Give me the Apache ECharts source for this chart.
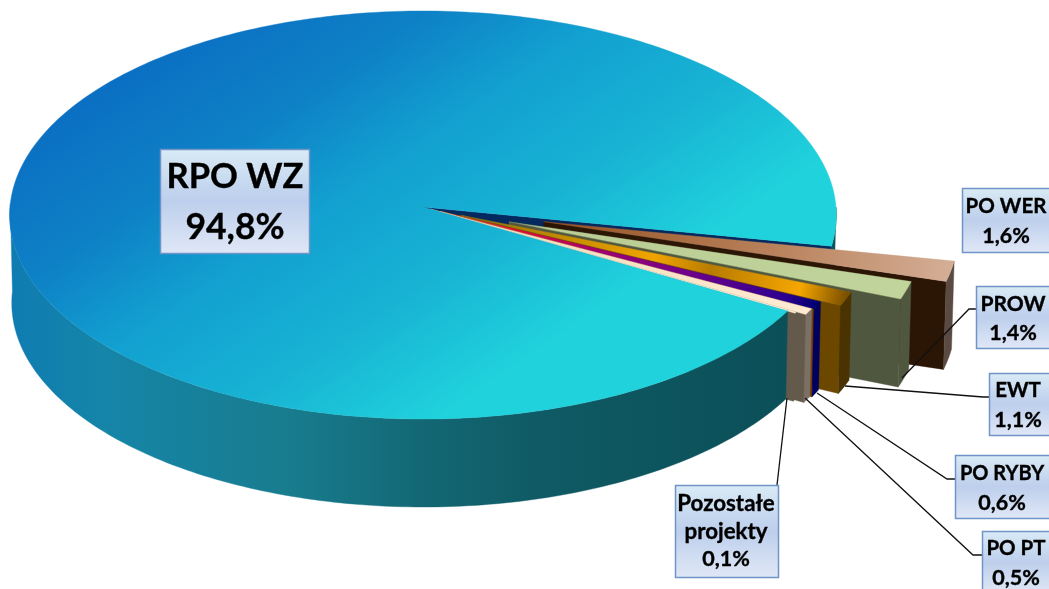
<!DOCTYPE html>
<html><head><meta charset="utf-8">
<style>html,body{margin:0;padding:0;background:#fff;overflow:hidden}#c{width:1049px;height:589px}</style>
<script src="https://cdn.jsdelivr.net/npm/echarts@6/dist/echarts.min.js"></script>
</head><body><div id="c"></div>
<script>
// ---- data ----
const categories = ['RPO WZ', 'PO WER', 'PROW', 'EWT', 'PO RYBY', 'PO PT', 'Pozostałe\nprojekty'];
const shares = [94.8, 1.6, 1.4, 1.1, 0.6, 0.5, 0.1];

// ---- styling / layout, separate from the data ----
const explode = [0, 0.30, 0.22, 0.10, 0.05, 0.045, 0.02];
const FIRST_SLICE_ANGLE = 11;          // where the slice after RPO WZ starts
const SIDE_END_ANGLE = 181;            // silhouette of the pie's left edge
const PIE = { x: 423, y: 207, rx: 413, ry: 203.7, persp: 0.0392, depth: 88, bottomScale: 0.995 };
const FONT = 'Lato, Carlito, "Open Sans", sans-serif';
const g = (x, y, x2, y2, stops) => new echarts.graphic.LinearGradient(x, y, x2, y2,
  stops.map(s => ({ offset: s[0], color: s[1] })), true);

const sliceFaces = [
  null,
  { cut: '#2b1505', outer: '#5a4a42', top: [[0, '#94501f'], [0.6, '#bb8560'], [1, '#d4ae96']] },
  { cut: '#50573f', outer: '#50573f', top: [[0, '#7c8a62'], [0.1, '#b8cc94'], [1, '#c0d49c']] },
  { cut: '#6b4700', outer: '#4a3300', top: [[0, '#8a7010'], [0.25, '#c08a00'], [0.5, '#f0a400'], [0.65, '#b87c00'], [0.88, '#f5a600'], [1, '#7a5000']] },
  { cut: '#7a3d00', outer: '#00005e', top: [[0, '#d06020'], [0.2, '#e01030'], [0.42, '#a00070'], [0.65, '#70008a'], [0.92, '#2a0090'], [1, '#000070']] },
  { cut: '#645a4c', outer: '#7a7066', top: [[0, '#f3d8b8'], [1, '#fdebd2']] },
  { cut: '#645a4c', outer: '#645a4c', top: [[0, '#fdebd2'], [1, '#fdebd2']] }
];
const boxes = [
  { x: 160, y: 149, w: 149, h: 104, cx: 235, name: 34.5, pct: 35.5, lh: 51, dy: 1.5, line: null },
  { x: 962, y: 188, w: 90, h: 64, cx: 1006, name: 20.5, pct: 21.5, lh: 29.5, dy: 1.5, line: null },
  { x: 976, y: 286, w: 76, h: 62, cx: 1013, name: 21, pct: 21.5, lh: 29.5, dy: 1.5, line: [[977, 309], [969, 309], [902, 378]] },
  { x: 989, y: 373, w: 63, h: 62, cx: 1018, name: 20.5, pct: 21.5, lh: 29.5, dy: 1.5, line: [[989, 397], [983, 397], [845, 386]] },
  { x: 955, y: 455, w: 97, h: 63, cx: 1002, name: 20, pct: 21.5, lh: 29.5, dy: 1.5, line: [[955, 479], [947, 479], [817, 393]] },
  { x: 982, y: 531, w: 70, h: 62, cx: 1016, name: 20.5, pct: 21.5, lh: 29.5, dy: 1.5, line: [[982, 555], [973, 555], [805, 398]] },
  { x: 675, y: 485, w: 103, h: 92, cx: 726, name: 22.3, pct: 21.5, lh: 28, dy: 0.5, line: [[777, 485], [787, 398]] }
];

// ---- value → angle through the library's own linear scale ----
const total = shares.reduce((a, b) => a + b, 0);
const toDeg = v => echarts.number.linearMap(v, [0, total], [0, 360]);
const ranges = [];
(function () {
  let a = FIRST_SLICE_ANGLE;
  for (let i = 1; i < shares.length; i++) { ranges[i] = [a, a + toDeg(shares[i])]; a = ranges[i][1]; }
  ranges[0] = [a, FIRST_SLICE_ANGLE + 360];
})();
const rad = d => d * Math.PI / 180;
function offset(i) {
  const m = rad((ranges[i][0] + ranges[i][1]) / 2);
  return [explode[i] * Math.cos(m), explode[i] * Math.sin(m)];
}
function project(px, py, low) {
  const w = 1 - PIE.persp * py;
  const x = PIE.rx * px / w, y = PIE.ry * py / w;
  return low ? [PIE.x + x * PIE.bottomScale, PIE.y + y + PIE.depth] : [PIE.x + x, PIE.y + y];
}
const rim = (i, deg, low) => {
  const o = offset(i);
  return project(o[0] + Math.cos(rad(deg)), o[1] + Math.sin(rad(deg)), low);
};
const apex = (i, low) => { const o = offset(i); return project(o[0], o[1], low); };
function arc(i, a, b, low) {
  const n = Math.max(2, Math.ceil(Math.abs(b - a)));
  const out = [];
  for (let k = 0; k <= n; k++) out.push(rim(i, a + (b - a) * k / n, low));
  return out;
}
const poly = (points, fill) => ({ type: 'polygon', shape: { points }, style: { fill, stroke: fill, lineWidth: 0.4 } });

const sideFill = () => g(10, 0, 790, 0, [[0, '#0f7cb2'], [0.12, '#1585a8'], [0.36, '#187c8e'], [0.52, '#136875'], [0.68, '#0f5a64'], [1, '#0b4f58']]);
const topFill = () => g(150, 30, 420, 430, [[0, '#0a6cc2'], [0.3, '#0e82c6'], [0.5, '#12a0d0'], [0.76, '#18b4d4'], [1, '#20d2dc']]);

function mainBack(params) {
  const [a0, a1] = ranges[0];
  return { type: 'group', children: [
    poly(arc(0, 360, a1, false).concat(arc(0, a1, 360, true)), '#0b5560'),
    poly([apex(0, false), rim(0, a1, false), rim(0, a1, true), apex(0, true)], '#04295e')
  ] };
}
function slice(params) {
  const i = params.dataIndex + 1;
  const [a0, a1] = ranges[i];
  const f = sliceFaces[i];
  const A = apex(i, false), P1 = rim(i, a1, false);
  const mid = rim(i, (a0 + a1) / 2, false);
  return { type: 'group', children: [
    poly([A, P1, rim(i, a1, true), apex(i, true)], f.cut),
    poly(arc(i, a0, a1, false).concat(arc(i, a1, a0, true)), f.outer),
    poly([A].concat(arc(i, a0, a1, false)), g(A[0], A[1], mid[0], mid[1], f.top))
  ] };
}
function mainFront(params) {
  const [a0, a1] = ranges[0];
  return { type: 'group', children: [
    poly(arc(0, a0, SIDE_END_ANGLE, false).concat(arc(0, SIDE_END_ANGLE, a0, true)), sideFill()),
    poly([apex(0, false)].concat(arc(0, a0, a1, false)), topFill())
  ] };
}
function labelBox(params) {
  const i = params.dataIndex, b = boxes[i];
  const pct = String(shares[i]).replace('.', ',') + '%';
  const kids = [];
  if (b.line) kids.push({ type: 'polyline', shape: { points: b.line }, style: { stroke: '#111', lineWidth: 1.3, fill: null } });
  kids.push({ type: 'rect', shape: { x: b.x + 0.5, y: b.y + 0.5, width: b.w, height: b.h },
    style: { stroke: '#6f94c8', lineWidth: 1.5,
      fill: g(0, b.y, 0, b.y + b.h, [[0, '#d9ebf5'], [0.5, '#bdcfec'], [1, '#dfe7f6']]) } });
  const lines = categories[i].split('\n').map(t => [t, b.name]).concat([[pct, b.pct]]);
  const y0 = b.y + b.h / 2 + b.dy - (lines.length - 1) * b.lh / 2;
  lines.forEach((ln, k) => kids.push({ type: 'text', style: {
    text: ln[0], x: b.cx, y: y0 + k * b.lh, align: 'center', verticalAlign: 'middle',
    fontFamily: FONT, fontWeight: 'bold', fontSize: ln[1], fill: '#000', stroke: '#000', lineWidth: 0.35 } }));
  return { type: 'group', children: kids };
}

const chart = echarts.init(document.getElementById('c'), null, { renderer: 'canvas', width: 1049, height: 589 });
const base = { type: 'custom', coordinateSystem: 'none', silent: true, animation: false, clip: false };
chart.setOption({
  animation: false,
  backgroundColor: '#fff',
  series: [
    Object.assign({}, base, { name: 'back', z: 1, data: [shares[0]], renderItem: mainBack }),
    Object.assign({}, base, { name: 'slices', z: 2, data: shares.slice(1), renderItem: slice }),
    Object.assign({}, base, { name: 'front', z: 3, data: [shares[0]], renderItem: mainFront }),
    Object.assign({}, base, { name: 'labels', z: 4, data: shares, renderItem: labelBox })
  ]
});
</script></body></html>
